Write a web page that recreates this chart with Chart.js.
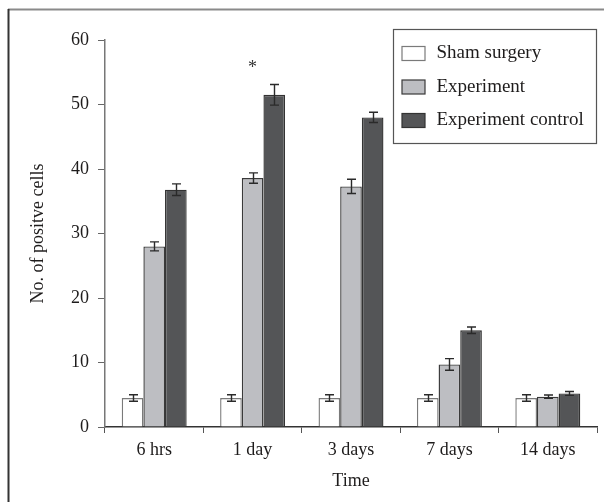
<!DOCTYPE html>
<html>
<head>
<meta charset="utf-8">
<script src="https://cdn.jsdelivr.net/npm/chart.js@4/dist/chart.umd.min.js"></script>
<style>
  html, body { margin: 0; padding: 0; background: #fff; }
  #wrap { width: 604px; height: 502px; }
</style>
</head>
<body>
<div id="wrap"><canvas id="c" width="604" height="502"></canvas></div>
<script>
// Time points after surgery
const categories = ['6 hrs', '1 day', '3 days', '7 days', '14 days'];

// Mean number of positive cells per group
const shamSurgery = [4.5, 4.5, 4.5, 4.5, 4.5];
const experiment = [28.0, 38.6, 37.3, 9.7, 4.7];
const experimentControl = [36.8, 51.5, 48.0, 15.0, 5.2];

// Error (± half-range) for each mean
const shamErr = [0.5, 0.5, 0.5, 0.5, 0.5];
const experimentErr = [0.7, 0.8, 1.1, 0.9, 0.25];
const controlErr = [0.9, 1.6, 0.8, 0.5, 0.3];

// Significance marker: category, series index, height on the value axis
const starCategory = ['1 day'];
const starSeries = [1];
const starValue = [56.2];

const yTicks = [0, 10, 20, 30, 40, 50, 60];

const FONT = "'Liberation Serif', 'DejaVu Serif', serif";
const INK = '#1e1c1c';

const errorSets = [shamErr, experimentErr, controlErr];

const extras = {
  id: 'extras',
  beforeDraw(chart) {
    const ctx = chart.ctx;
    ctx.save();
    // outer frame: top and left edges
    ctx.lineWidth = 2;
    ctx.strokeStyle = '#8a8a8a';
    ctx.beginPath();
    ctx.moveTo(8, 9.5);
    ctx.lineTo(604, 9.5);
    ctx.stroke();
    ctx.strokeStyle = '#333';
    ctx.beginPath();
    ctx.moveTo(8.5, 9);
    ctx.lineTo(8.5, 502);
    ctx.stroke();
    ctx.restore();
  },
  afterDatasetsDraw(chart) {
    const ctx = chart.ctx;
    const ys = chart.scales.y;
    ctx.save();
    // error bars
    ctx.strokeStyle = '#2a2a2a';
    ctx.lineWidth = 1.4;
    chart.data.datasets.forEach((ds, i) => {
      const meta = chart.getDatasetMeta(i);
      meta.data.forEach((bar, j) => {
        const v = ds.data[j], e = errorSets[i][j];
        const x = Math.round(bar.x) + 0.5;
        const yt = ys.getPixelForValue(v + e);
        const yb = ys.getPixelForValue(v - e);
        ctx.beginPath();
        ctx.moveTo(x, yt); ctx.lineTo(x, yb);
        ctx.moveTo(x - 4.5, yt); ctx.lineTo(x + 4.5, yt);
        ctx.moveTo(x - 4.5, yb); ctx.lineTo(x + 4.5, yb);
        ctx.stroke();
      });
    });
    // significance marker
    ctx.fillStyle = '#333';
    ctx.font = '18px ' + FONT;
    ctx.textAlign = 'center';
    ctx.textBaseline = 'middle';
    starCategory.forEach((c, k) => {
      const j = categories.indexOf(c);
      const bar = chart.getDatasetMeta(starSeries[k]).data[j];
      ctx.fillText('*', bar.x, ys.getPixelForValue(starValue[k]) + 4);
    });
    // legend box
    const ca = chart.chartArea;
    const bx = ca.right - 203.5, by = ca.top - 10.5, bw = 203, bh = 114;
    ctx.fillStyle = '#fff';
    ctx.fillRect(bx, by, bw, bh);
    ctx.strokeStyle = '#555';
    ctx.lineWidth = 1.2;
    ctx.strokeRect(bx, by, bw, bh);
    ctx.font = '19px ' + FONT;
    ctx.textAlign = 'left';
    ctx.textBaseline = 'middle';
    chart.data.datasets.forEach((ds, i) => {
      const cy = by + 24 + i * 33.5;
      ctx.fillStyle = ds.backgroundColor;
      ctx.fillRect(bx + 8.5, cy - 7, 23, 14);
      ctx.strokeStyle = ds.borderColor;
      ctx.lineWidth = 1.2;
      ctx.strokeRect(bx + 8.5, cy - 7, 23, 14);
      ctx.fillStyle = INK;
      ctx.fillText(ds.label, bx + 43, cy);
    });
    ctx.restore();
  }
};

new Chart(document.getElementById('c'), {
  type: 'bar',
  data: {
    labels: categories,
    datasets: [
      { label: 'Sham surgery', data: shamSurgery, backgroundColor: '#ffffff', borderColor: '#7a7a7a', borderWidth: 1.4 },
      { label: 'Experiment', data: experiment, backgroundColor: '#bdbec2', borderColor: '#3a3a3a', borderWidth: 1.4 },
      { label: 'Experiment control', data: experimentControl, backgroundColor: '#545557', borderColor: '#333333', borderWidth: 1.4 }
    ]
  },
  options: {
    responsive: false,
    animation: false,
    devicePixelRatio: 1,
    layout: { padding: { left: 0, top: 40, right: 7, bottom: 0 } },
    datasets: { bar: { barPercentage: 1.0, categoryPercentage: 0.66 } },
    plugins: {
      legend: { display: false },
      tooltip: { enabled: false }
    },
    scales: {
      x: {
        grid: { display: true, drawOnChartArea: false, drawTicks: true, tickLength: 6, color: '#555', offset: true },
        border: { display: true, color: '#333', width: 1.5 },
        ticks: { color: INK, font: { family: FONT, size: 18 }, padding: 6 },
        title: { display: true, text: 'Time', color: INK, font: { family: FONT, size: 18 }, padding: { top: 4, bottom: 10 } },
        afterFit(scale) { scale.height = 75; }
      },
      y: {
        min: 0, max: 60,
        afterBuildTicks(scale) { scale.ticks = yTicks.map(v => ({ value: v })); },
        grid: { display: true, drawOnChartArea: false, drawTicks: true, tickLength: 7, color: '#666' },
        border: { display: true, color: '#777', width: 1.5 },
        ticks: { color: INK, font: { family: FONT, size: 18 }, padding: 9 },
        title: { display: true, text: 'No. of positve cells', color: INK, font: { family: FONT, size: 18 }, padding: { top: 27, bottom: 0 } },
        afterFit(scale) { scale.width = 105; }
      }
    }
  },
  plugins: [extras]
});
</script>
</body>
</html>
